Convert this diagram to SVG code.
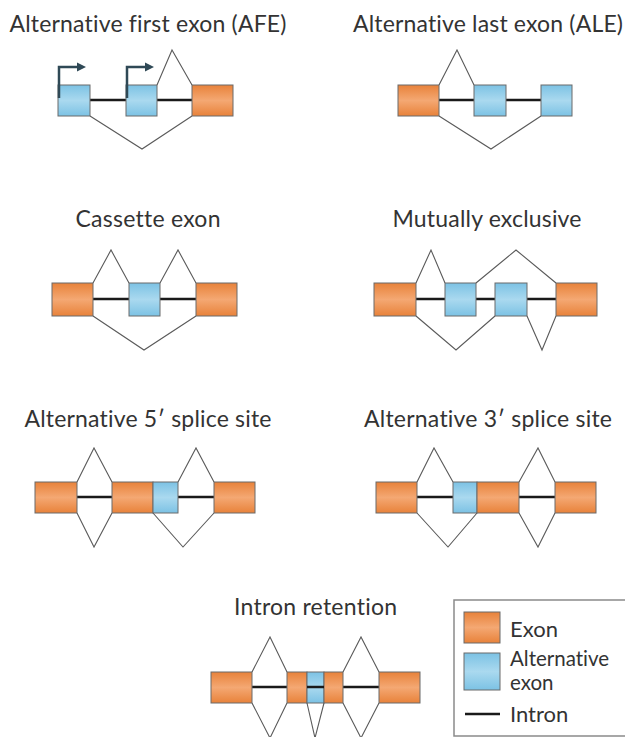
<svg xmlns="http://www.w3.org/2000/svg" width="625" height="737" viewBox="0 0 625 737">
  <defs>
    <linearGradient id="gOrange" x1="0" y1="0" x2="0" y2="1">
      <stop offset="0" stop-color="#e8823a"/>
      <stop offset="0.5" stop-color="#f4a873"/>
      <stop offset="1" stop-color="#e8823a"/>
    </linearGradient>
    <linearGradient id="gBlue" x1="0" y1="0" x2="0" y2="1">
      <stop offset="0" stop-color="#7cc2e4"/>
      <stop offset="0.5" stop-color="#aad9ef"/>
      <stop offset="1" stop-color="#7cc2e4"/>
    </linearGradient>
    <marker id="tss" markerWidth="11" markerHeight="11" refX="1" refY="5.5" orient="auto" markerUnits="userSpaceOnUse">
      <path d="M1,1 L10,5.5 L1,10 Z" fill="#2f4956"/>
    </marker>
  </defs>
  <style>
    .title { font-family: Lato, "Open Sans", "DejaVu Sans", sans-serif; font-size: 23px; fill: #333333; text-anchor: middle; font-variant-ligatures: none; }
    .legend-text { font-family: Lato, "Open Sans", "DejaVu Sans", sans-serif; font-size: 22px; fill: #333333; font-variant-ligatures: none; }
    .legend-two { font-size: 20.5px; }
    .exon { fill: url(#gOrange); stroke: #6a6a6a; stroke-width: 1; }
    .alt { fill: url(#gBlue); stroke: #6a6a6a; stroke-width: 1; }
    .intron { stroke: #1a1a1a; stroke-width: 2.5; fill: none; }
    .splice { stroke: #5a5a5a; stroke-width: 1.1; fill: none; stroke-linejoin: miter; }
    .tss { stroke: #2f4956; stroke-width: 2.5; fill: none; marker-end: url(#tss); }
  </style>
  <rect width="625" height="737" fill="#ffffff"/>

  <!-- Alternative first exon -->
  <g id="afe">
    <text class="title" x="148" y="32" textLength="277" lengthAdjust="spacing">Alternative first exon (AFE)</text>
    <line class="intron" x1="90" y1="100" x2="192" y2="100"/>
    <rect class="alt" x="58" y="85" width="32" height="31"/>
    <rect class="alt" x="126" y="85" width="31" height="31"/>
    <rect class="exon" x="192" y="85" width="41" height="31"/>
    <path class="tss" d="M59,98 V67 H77"/>
    <path class="tss" d="M127,98 V67 H145"/>
  </g>

  <!-- Alternative last exon -->
  <g id="ale">
    <text class="title" x="488" y="32" textLength="270" lengthAdjust="spacing">Alternative last exon (ALE)</text>
    <line class="intron" x1="439" y1="100" x2="541" y2="100"/>
    <rect class="exon" x="398" y="85" width="41" height="31"/>
    <rect class="alt" x="474" y="85" width="32" height="31"/>
    <rect class="alt" x="541" y="85" width="31" height="31"/>
  </g>

  <!-- Cassette exon -->
  <g id="cassette">
    <text class="title" x="148" y="227" textLength="145" lengthAdjust="spacing">Cassette exon</text>
    <line class="intron" x1="93" y1="299" x2="196" y2="299"/>
    <rect class="exon" x="52" y="283" width="41" height="33"/>
    <rect class="alt" x="129" y="283" width="31" height="33"/>
    <rect class="exon" x="196" y="283" width="41" height="33"/>
  </g>

  <!-- Mutually exclusive exons -->
  <g id="mutually-exclusive">
    <text class="title" x="487" y="227" textLength="189" lengthAdjust="spacing">Mutually exclusive</text>
    <line class="intron" x1="416" y1="299" x2="556" y2="299"/>
    <rect class="exon" x="374" y="283" width="42" height="33"/>
    <rect class="alt" x="445" y="283" width="31" height="33"/>
    <rect class="alt" x="495" y="283" width="32" height="33"/>
    <rect class="exon" x="556" y="283" width="41" height="33"/>
  </g>

  <!-- Alternative 5' splice site -->
  <g id="alt-5ss">
    <text class="title" x="148" y="427" textLength="247" lengthAdjust="spacing">Alternative 5′ splice site</text>
    <line class="intron" x1="77" y1="497" x2="112" y2="497"/>
    <line class="intron" x1="178" y1="497" x2="214" y2="497"/>
    <rect class="exon" x="35" y="482" width="42" height="31"/>
    <rect class="exon" x="112" y="482" width="41" height="31"/>
    <rect class="alt" x="153" y="482" width="25" height="31"/>
    <rect class="exon" x="214" y="482" width="41" height="31"/>
  </g>

  <!-- Alternative 3' splice site -->
  <g id="alt-3ss">
    <text class="title" x="488" y="427" textLength="248" lengthAdjust="spacing">Alternative 3′ splice site</text>
    <line class="intron" x1="417" y1="497" x2="453" y2="497"/>
    <line class="intron" x1="519" y1="497" x2="555" y2="497"/>
    <rect class="exon" x="376" y="482" width="41" height="31"/>
    <rect class="alt" x="453" y="482" width="24" height="31"/>
    <rect class="exon" x="477" y="482" width="42" height="31"/>
    <rect class="exon" x="555" y="482" width="41" height="31"/>
  </g>

  <!-- Intron retention -->
  <g id="intron-retention">
    <text class="title" x="315.5" y="615" textLength="163" lengthAdjust="spacing">Intron retention</text>
    <line class="intron" x1="252" y1="687" x2="379" y2="687"/>
    <rect class="exon" x="211" y="672" width="41" height="31"/>
    <rect class="exon" x="287" y="672" width="20" height="31"/>
    <rect class="alt" x="307" y="672" width="17" height="31"/>
    <rect class="exon" x="324" y="672" width="19" height="31"/>
    <line class="intron" x1="307" y1="687" x2="324" y2="687"/>
    <rect class="exon" x="379" y="672" width="41" height="31"/>
  </g>

  <!-- Splice connectors -->
  <g id="connectors">
    <!-- AFE -->
    <polyline class="splice" points="157,85 172,50 192,85"/>
    <polyline class="splice" points="90,116 142,149 192,116"/>
    <!-- ALE -->
    <polyline class="splice" points="439,85 457,50 474,85"/>
    <polyline class="splice" points="439,116 491,149 541,116"/>
    <!-- Cassette -->
    <polyline class="splice" points="93,283 111,250 129,283"/>
    <polyline class="splice" points="160,283 178,250 196,283"/>
    <polyline class="splice" points="93,316 144,350 196,316"/>
    <!-- Mutually exclusive -->
    <polyline class="splice" points="416,283 431,250 445,283"/>
    <polyline class="splice" points="476,283 516,250 556,283"/>
    <polyline class="splice" points="416,316 456,350 495,316"/>
    <polyline class="splice" points="527,316 542,350 556,316"/>
    <!-- Alternative 5' -->
    <polyline class="splice" points="77,482 94,448 112,482"/>
    <polyline class="splice" points="178,482 196,448 214,482"/>
    <polyline class="splice" points="77,513 94,547 112,513"/>
    <polyline class="splice" points="153,513 183,547 214,513"/>
    <!-- Alternative 3' -->
    <polyline class="splice" points="417,482 434,448 453,482"/>
    <polyline class="splice" points="519,482 538,448 555,482"/>
    <polyline class="splice" points="417,513 448,547 477,513"/>
    <polyline class="splice" points="519,513 538,547 555,513"/>
    <!-- Intron retention -->
    <polyline class="splice" points="252,672 270,637 287,672"/>
    <polyline class="splice" points="343,672 361,637 379,672"/>
    <polyline class="splice" points="252,703 270,738 287,703"/>
    <polyline class="splice" points="307,703 315,738 324,703"/>
    <polyline class="splice" points="343,703 361,738 379,703"/>
  </g>

  <!-- Legend -->
  <g id="legend">
    <rect x="454" y="600" width="175" height="136" fill="#ffffff" stroke="#8a8a8a" stroke-width="1.5"/>
    <rect class="exon" x="464" y="612" width="36" height="31"/>
    <text class="legend-text" x="510" y="637">Exon</text>
    <rect class="alt" x="464" y="653" width="36" height="37"/>
    <text class="legend-text legend-two" x="510" y="666">Alternative</text>
    <text class="legend-text legend-two" x="510" y="690">exon</text>
    <line class="intron" x1="465" y1="714" x2="500" y2="714" stroke-width="2"/>
    <text class="legend-text" x="510" y="722">Intron</text>
  </g>
</svg>
